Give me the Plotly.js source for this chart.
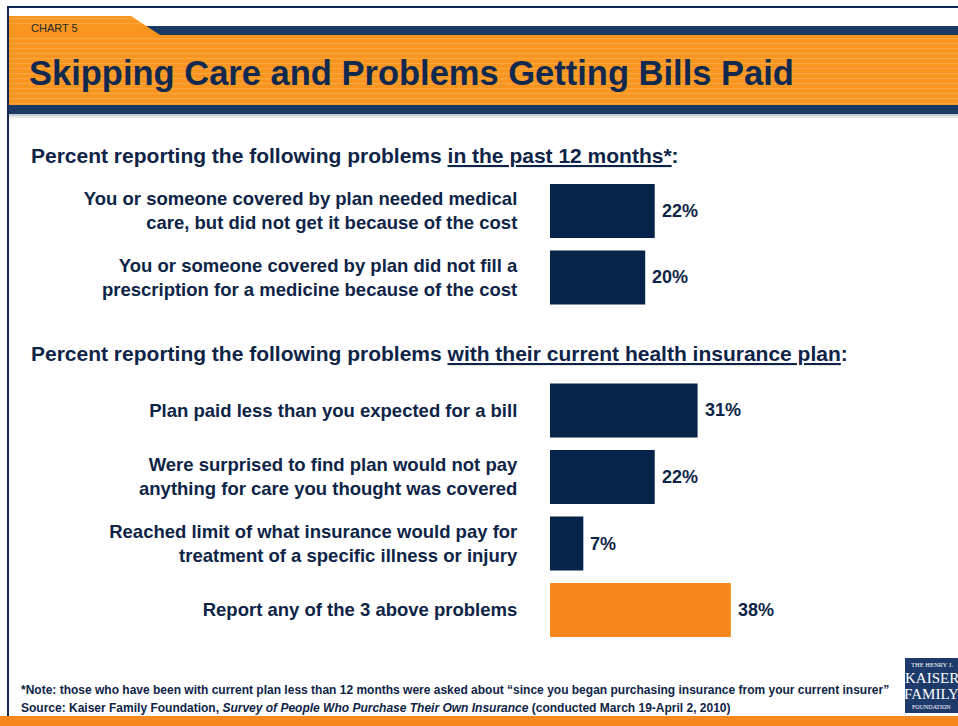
<!DOCTYPE html>
<html>
<head>
<meta charset="utf-8">
<script src="https://cdn.plot.ly/plotly-3.0.1.min.js"></script>
<style>html,body{margin:0;padding:0;background:#fff;}#chart{width:958px;height:726px;}</style>
</head>
<body>
<div id="chart"></div>
<script>
// ---- data ----
const categories = [
  "You or someone covered by plan needed medical<br>care, but did not get it because of the cost",
  "You or someone covered by plan did not fill a<br>prescription for a medicine because of the cost",
  "Plan paid less than you expected for a bill",
  "Were surprised to find plan would not pay<br>anything for care you thought was covered",
  "Reached limit of what insurance would pay for<br>treatment of a specific illness or injury",
  "Report any of the 3 above problems"
];
const values = [22, 20, 31, 22, 7, 38];
const valueLabels = ["22%", "20%", "31%", "22%", "7%", "38%"];
const highlighted = "Report any of the 3 above problems";
const sectionHeaders = [
  "Percent reporting the following problems <u>in the past 12 months*</u>:",
  "Percent reporting the following problems <u>with their current health insurance plan</u>:"
];
const titleText = "Skipping Care and Problems Getting Bills Paid";
const chartTag = "CHART 5";
const noteText = "*Note: those who have been with current plan less than 12 months were asked about \u201csince you began purchasing insurance from your current insurer\u201d";
const sourceText = "Source: Kaiser Family Foundation, <i>Survey of People Who Purchase Their Own Insurance</i> (conducted March 19-April 2, 2010)";

// ---- styling ----
const W = 958, H = 726;
const NAVY = "#06234a", ORANGE = "#f5891f", BAND = "#f7951f", BANDNAVY = "#1b3a63", TXT = "#0e2447";
const FONT = "Liberation Sans, Arial, sans-serif";
const px = x => x / W;
const py = y => 1 - y / H;

const gapLabel = " ";
const categoryOrder = [categories[0], categories[1], gapLabel].concat(categories.slice(2));
const barColors = categories.map(c => c === highlighted ? ORANGE : NAVY);

const shapes = [];
function rect(x0, y0, x1, y1, color) {
  shapes.push({type: "rect", xref: "paper", yref: "paper", x0: px(x0), x1: px(x1), y0: py(y1), y1: py(y0),
    fillcolor: color, line: {width: 0}, layer: "below"});
}
// outer frame
rect(7, 6, 958, 8, "#0f2a52");
rect(7, 6, 9, 716, "#0f2a52");
// header: navy band, orange tab, orange main band, navy bottom band
rect(9, 26, 958, 35, BANDNAVY);
shapes.push({type: "path", xref: "paper", yref: "paper",
  path: `M ${px(9)},${py(16)} L ${px(131)},${py(16)} L ${px(160)},${py(35)} L ${px(9)},${py(35)} Z`,
  fillcolor: BAND, line: {width: 0}, layer: "below"});
rect(9, 35, 958, 105, BAND);
for (let y = 18; y < 104; y += 5) {
  if (y > 25 && y < 36) continue;
  const xe = (y < 26) ? 131 + (y - 16) * 29 / 19 : 958;
  rect(9, y, xe, y + 1.2, "#f9a641");
}
rect(9, 105, 958, 114, BANDNAVY);
rect(9, 114, 958, 116, "#c9ccd2");
rect(9, 116, 958, 118, "#e6e8eb");
// bottom orange strip
rect(0, 716, 958, 726, ORANGE);
// logo box
rect(905, 658, 958, 713, "#1d3a6b");

const annotations = [];
function txt(text, x, y, size, opts) {
  annotations.push(Object.assign({xref: "paper", yref: "paper", x: px(x), y: py(y), text: text,
    showarrow: false, xanchor: "left", yanchor: "middle",
    font: {family: FONT, size: size, color: TXT, weight: "bold"}}, opts || {}));
}
txt(chartTag, 29, 28, 11, {font: {family: "Liberation Sans Narrow, Arial Narrow, " + FONT, size: 11, color: "#2a2a2a"}});
txt(titleText, 27, 73, 34.5, {font: {family: FONT, size: 34.5, color: "#11294f", weight: "bold"}});
txt(sectionHeaders[0], 29, 155, 21);
txt(sectionHeaders[1], 29, 354, 21);
txt(noteText, 19, 690, 12);
txt(sourceText, 19, 708, 12);
// logo text
const SERIF = "Liberation Serif, DejaVu Serif, serif";
txt("THE HENRY J.", 931.5, 664, 6.5, {xanchor: "center", font: {family: SERIF, size: 6.5, color: "#fff"}});
txt("KAISER", 931.5, 678, 15, {xanchor: "center", font: {family: SERIF, size: 15, color: "#fff"}});
txt("FAMILY", 931.5, 694, 15, {xanchor: "center", font: {family: SERIF, size: 15, color: "#fff"}});
txt("FOUNDATION", 931.5, 707, 6, {xanchor: "center", font: {family: SERIF, size: 6, color: "#fff"}});

// value labels at the end of each bar
categories.forEach((c, i) => {
  annotations.push({xref: "x", yref: "y", x: values[i], y: c, text: valueLabels[i], showarrow: false,
    xanchor: "left", yanchor: "middle", xshift: 5,
    font: {family: FONT, size: 18, color: TXT, weight: "bold"}});
});

const trace = {
  type: "bar", orientation: "h",
  x: values, y: categories,
  marker: {color: barColors, line: {width: 0}},
  width: 0.81,
  hoverinfo: "skip"
};

const layout = {
  width: W, height: H,
  margin: {l: 0, r: 0, t: 0, b: 0},
  paper_bgcolor: "#fff", plot_bgcolor: "rgba(0,0,0,0)",
  showlegend: false,
  xaxis: {domain: [px(550), px(788)], range: [0, 50], showgrid: false, zeroline: false,
    showticklabels: false, showline: false, ticks: "", fixedrange: true},
  yaxis: {domain: [py(643.25), py(177.75)], type: "category", categoryorder: "array",
    categoryarray: categoryOrder, range: [6.5, -0.5], showgrid: false, zeroline: false,
    showline: false, ticks: "outside", ticklen: 28, tickcolor: "rgba(0,0,0,0)",
    tickfont: {family: FONT, size: 18.5, color: TXT, weight: "bold"}, automargin: false, fixedrange: true},
  shapes: shapes,
  annotations: annotations
};

Plotly.newPlot("chart", [trace], layout, {displayModeBar: false, staticPlot: true});
</script>
</body>
</html>
